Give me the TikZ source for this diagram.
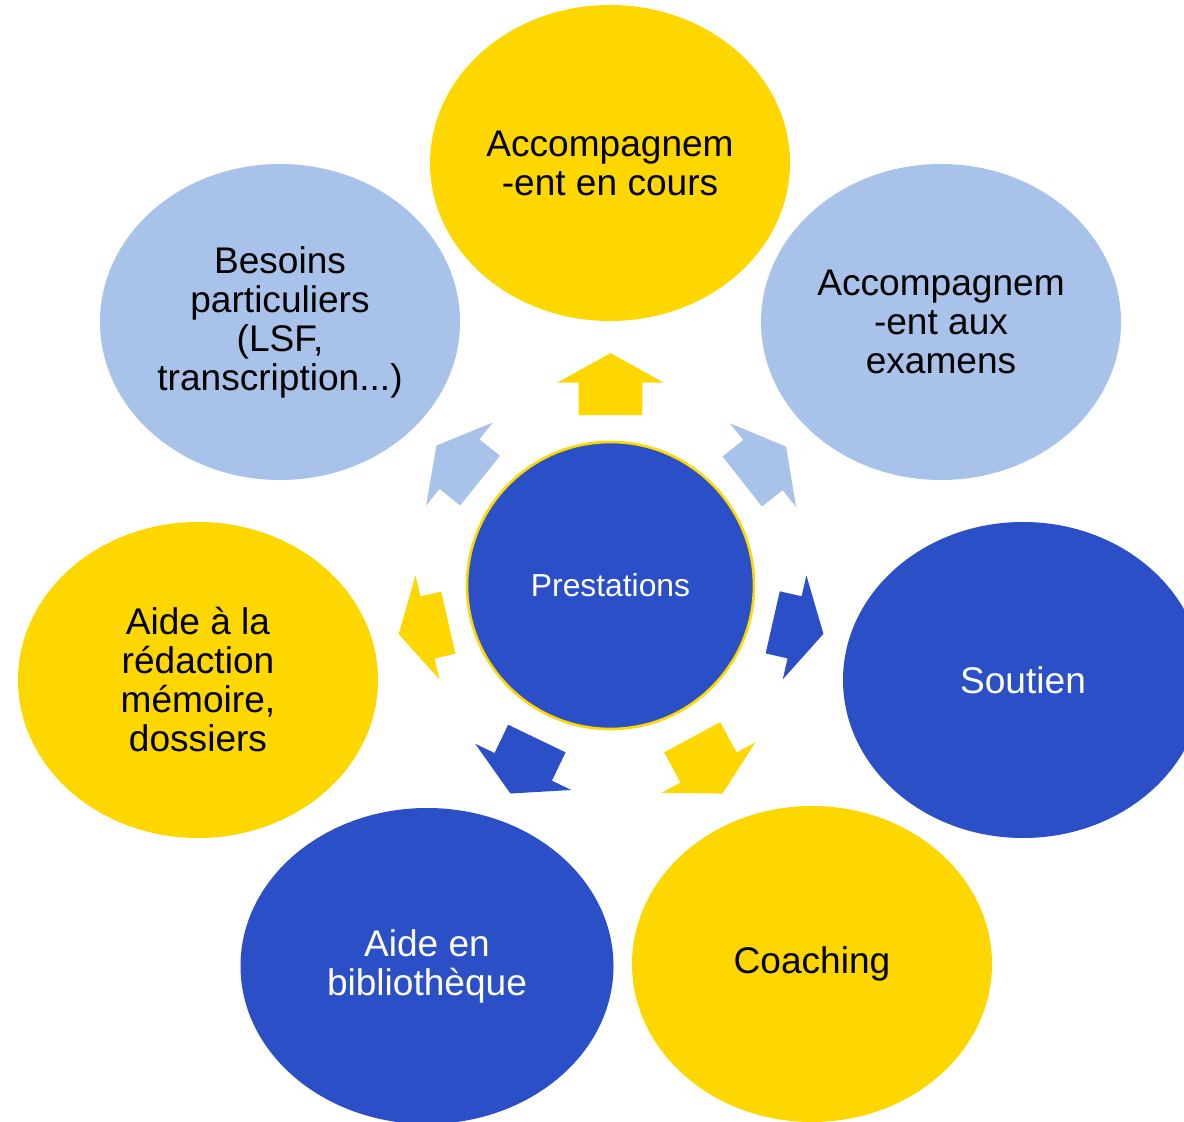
\documentclass[tikz,border=0pt]{standalone}
\usepackage{fontspec}
\setmainfont{Liberation Sans}
\usepackage{xcolor}
\usetikzlibrary{positioning,shapes.geometric,shapes.arrows}

\definecolor{gold}{HTML}{FFD700}
\definecolor{sky}{HTML}{A8C2EA}
\definecolor{royal}{HTML}{2A4FC7}

\begin{document}
\begin{tikzpicture}[
    bub/.style = {ellipse, minimum width=7.2cm, minimum height=6.32cm, inner sep=0pt, align=center, font=\fontsize{21.1}{22.2}\selectfont},
    hub/.style = {circle, draw=gold, line width=1.5pt, fill=royal, text=white, minimum size=5.74cm, font=\fontsize{18.1}{21}\selectfont},
    spk/.style = {single arrow, anchor=tail, inner xsep=0pt, inner ysep=0.63cm, single arrow head extend=0.43cm, single arrow tip angle=122}
]
\useasboundingbox (0,0) rectangle (23.68,22.42);
\clip (0,0) rectangle (23.68,22.42);

\node[hub] (Pr) at (12.21,10.71) {Prestations};

\node[bub, fill=gold] (E1) at (12.2,19.16) {Accompagnem\\-ent en cours};
\node[bub, fill=sky] (E2) at (18.82,15.98) {Accompagnem\\-ent aux\\examens};
\node[bub, fill=royal, text=white] (E3) at (20.46,8.82) {Soutien};
\node[bub, fill=gold] (E4) at (16.24,3.14) {Coaching};
\node[bub, fill=royal, text=white, minimum width=7.46cm] (E5) at (8.54,3.10) {Aide en\\bibliothèque};
\node[bub, fill=gold] (E6) at (3.96,8.82) {Aide à la\\rédaction\\mémoire,\\dossiers};
\node[bub, fill=sky] (E7) at (5.6,15.98) {Besoins\\particuliers\\(LSF,\\transcription...)};

\node[spk, fill=gold, rotate=90, minimum height=1.24cm] (A1) at ([shift={(90:3.4cm)}]Pr.center) {};
\node[spk, fill=sky, rotate=38.3, minimum height=1.12cm] (A2) at ([shift={(38.3:3.35cm)}]Pr.center) {};
\node[spk, fill=royal, rotate=-12.8, minimum height=1.04cm] (A3) at ([shift={(-12.8:3.32cm)}]Pr.center) {};
\node[spk, fill=gold, rotate=-61.7, minimum height=1.28cm] (A4) at ([shift={(-61.7:3.44cm)}]Pr.center) {};
\node[spk, fill=royal, rotate=-115.7, minimum height=1.22cm] (A5) at ([shift={(-115.7:3.39cm)}]Pr.center) {};
\node[spk, fill=gold, rotate=192.9, minimum height=1.02cm] (A6) at ([shift={(192.9:3.32cm)}]Pr.center) {};
\node[spk, fill=sky, rotate=141.2, minimum height=1.12cm] (A7) at ([shift={(141.2:3.34cm)}]Pr.center) {};

\end{tikzpicture}
\end{document}
